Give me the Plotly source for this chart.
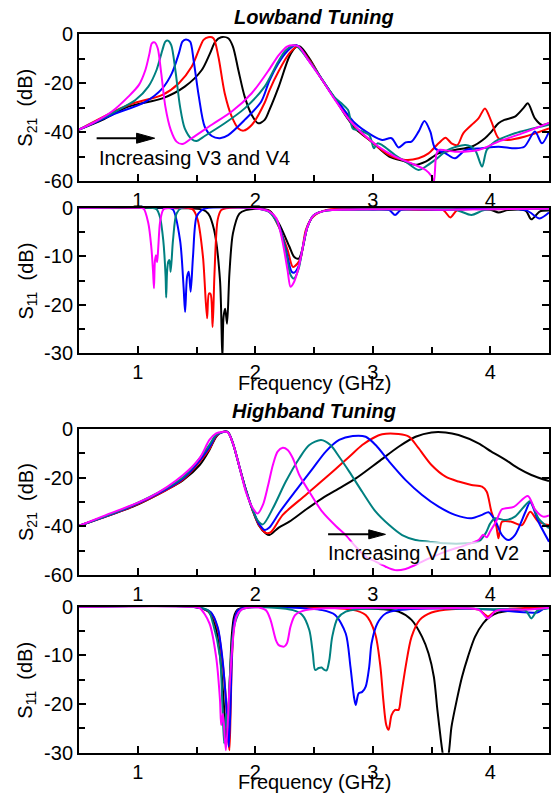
import plotly.graph_objects as go

# ---------------- axis ticks ----------------
freq_ticks = [1, 2, 3, 4]
freq_labels = ["1", "2", "3", "4"]
freq_minor = [1.5, 2.5, 3.5]

s21_ticks = [0, -20, -40, -60]
s21_labels = ["0", "-20", "-40", "-60"]
s21_minor = [-10, -30, -50]

s11_ticks = [0, -10, -20, -30]
s11_labels = ["0", "-10", "-20", "-30"]
s11_minor = [-5, -15, -25]

# ---------------- Lowband tuning, S21 (GHz, dB) ----------------
lb_s21_black_f = [0.50, 0.70, 0.92, 1.21, 1.40, 1.545, 1.615, 1.66, 1.71, 1.77, 1.81, 1.856, 1.91, 1.97,
                  2.025, 2.08, 2.12, 2.20, 2.29, 2.345, 2.38, 2.46, 2.57, 2.68, 2.78, 2.85, 2.99, 3.14,
                  3.28, 3.36, 3.45, 3.56, 3.70, 3.84, 3.955, 4.01, 4.07, 4.12, 4.21, 4.28, 4.32, 4.38,
                  4.44, 4.50]
lb_s21_black_db = [-39, -35, -29.6, -26.2, -21.4, -14.6, -7.8, -3.0, -1.2, -1.6, -5.0, -14.6, -25.5, -33.0,
                   -36.4, -35.0, -31.0, -21.4, -9.1, -5.3, -5.0, -9.8, -18.7, -26.5, -34.0, -38.5, -43.9,
                   -50.0, -52.1, -53.4, -52.1, -48.7, -47.3, -46.0, -42.5, -39.8, -36.4, -35.0, -33.7,
                   -30.3, -28.2, -34.4, -37.1, -36.4]

lb_s21_red_f = [0.50, 0.92, 1.21, 1.35, 1.46, 1.52, 1.56, 1.60, 1.644, 1.686, 1.74, 1.80, 1.856, 1.90,
                1.97, 2.08, 2.12, 2.20, 2.29, 2.36, 2.46, 2.57, 2.68, 2.71, 2.85, 2.99, 3.14, 3.28, 3.39,
                3.475, 3.56, 3.62, 3.67, 3.72, 3.77, 3.84, 3.90, 3.955, 4.01, 4.07, 4.15, 4.29, 4.50]
lb_s21_red_db = [-39, -28.9, -24.8, -20, -13.2, -6.4, -2.3, -1.2, -1.6, -9.1, -24.1, -33.7, -38.5, -39.4,
                 -37.1, -28.0, -23.0, -15.0, -7.8, -5.0, -10.5, -18.6, -26.5, -28.2, -37.8, -43.9, -49.4,
                 -51.4, -50.7, -48.7, -44.6, -42.3, -44.6, -45.3, -40.5, -37.1, -34.4, -30.3, -35.7,
                 -42.5, -43.2, -41.9, -38.5]

lb_s21_blue_f = [0.50, 0.78, 1.065, 1.21, 1.29, 1.35, 1.38, 1.41, 1.446, 1.475, 1.52, 1.57, 1.63, 1.70,
                 1.77, 1.91, 2.05, 2.12, 2.195, 2.27, 2.35, 2.46, 2.57, 2.68, 2.71, 2.85, 2.99, 3.08, 3.16,
                 3.22, 3.28, 3.33, 3.39, 3.44, 3.49, 3.53, 3.62, 3.70, 3.79, 3.93, 4.07, 4.21, 4.29, 4.38,
                 4.44, 4.50]
lb_s21_blue_db = [-39, -33, -27.6, -22.1, -16, -7.8, -3, -2.1, -3, -10.5, -25.5, -37.8, -41.6, -42.5,
                  -41.2, -35, -27.6, -19.0, -12.0, -7.0, -4.4, -11, -18.6, -26.5, -28, -36.4, -41.2, -43.2,
                  -42.5, -46.3, -44.2, -43.9, -39.8, -35.5, -39.8, -46.6, -48.7, -50.7, -47.3, -46.6, -46,
                  -46.6, -46, -39.8, -44.6, -39.8]

lb_s21_teal_f = [0.50, 0.78, 0.98, 1.09, 1.16, 1.21, 1.235, 1.257, 1.285, 1.32, 1.36, 1.40, 1.46, 1.50,
                 1.57, 1.74, 1.91, 2.08, 2.195, 2.26, 2.34, 2.46, 2.57, 2.68, 2.74, 2.79, 2.83, 2.88, 2.97,
                 3.01, 3.04, 3.08, 3.19, 3.28, 3.39, 3.45, 3.53, 3.64, 3.79, 3.87, 3.93, 3.97, 4.04, 4.21,
                 4.50]
lb_s21_teal_db = [-39, -32.3, -26.9, -21.4, -14.6, -6.4, -3.0, -2.6, -4.4, -14.6, -29.6, -38.5, -42.9,
                  -43.6, -41.6, -36.4, -30.3, -21.4, -11.2, -6.5, -4.5, -11, -18.5, -26, -28.5, -31,
                  -38.5, -39.2, -41.2, -46.6, -44.6, -45.3, -49.4, -52.1, -55.5, -54.1, -51.4, -47.3,
                  -45.3, -47.3, -54.1, -47.3, -43.9, -40.5, -37]

lb_s21_magenta_f = [0.50, 0.64, 0.78, 0.92, 1.01, 1.065, 1.10, 1.12, 1.144, 1.17, 1.20, 1.235, 1.28, 1.33,
                    1.38, 1.46, 1.63, 1.80, 1.97, 2.11, 2.20, 2.27, 2.32, 2.37, 2.46, 2.57, 2.68, 2.80,
                    2.91, 3.05, 3.19, 3.33, 3.45, 3.50, 3.52, 3.54, 3.56, 3.70, 3.90, 4.07, 4.27, 4.50]
lb_s21_magenta_db = [-39, -35.7, -31.6, -25.5, -20.7, -14.6, -7.8, -3.7, -3.3, -5.7, -16, -29.6, -39,
                     -43.9, -44.9, -42.5, -37, -31.6, -24.1, -15.0, -8.5, -5, -4.5, -5, -11.2, -18.7,
                     -26.9, -35, -40.5, -46, -50, -52.8, -55.5, -58, -60.5, -49.4, -47.3, -48, -47.3,
                     -43.9, -40.5, -36.2]

# ---------------- Lowband tuning, S11 (GHz, dB) ----------------
lb_s11_black_f = [0.50, 1.40, 1.55, 1.60, 1.65, 1.70, 1.72, 1.73, 1.744, 1.76, 1.78, 1.81, 1.865, 1.92,
                  2.03, 2.12, 2.20, 2.29, 2.33, 2.37, 2.40, 2.445, 2.50, 2.60, 3.50, 4.00, 4.07, 4.15,
                  4.30, 4.35, 4.42, 4.50]
lb_s11_black_db = [0, -0.1, -0.4, -1.2, -4.6, -14.9, -31, -22.5, -20.8, -23.9, -13.6, -5.3, -1.2, -0.5,
                   -0.2, -0.6, -3.2, -8, -10.1, -10.5, -8.7, -3.9, -1.5, -0.6, -0.4, -0.4, -1, -0.5,
                   -0.6, -2.4, -0.8, -0.6]

lb_s11_red_f = [0.50, 1.40, 1.47, 1.51, 1.555, 1.59, 1.606, 1.62, 1.637, 1.653, 1.68, 1.71, 1.75, 2.00,
                2.12, 2.20, 2.275, 2.32, 2.36, 2.39, 2.43, 2.49, 2.60, 3.40, 3.60, 3.66, 3.72, 4.00, 4.50]
lb_s11_red_db = [0, 0, -0.4, -2.5, -10.1, -22.8, -17.7, -17.8, -24.6, -13.6, -2.5, -0.5, -0.1, -0.1,
                 -0.7, -3.9, -8.7, -12.2, -11.5, -10.1, -4.6, -1.9, -0.5, -0.3, -0.5, -2, -0.5, -0.3, -0.2]

lb_s11_blue_f = [0.50, 1.25, 1.30, 1.36, 1.39, 1.403, 1.42, 1.434, 1.45, 1.47, 1.50, 1.54, 1.58, 2.00,
                 2.12, 2.20, 2.26, 2.31, 2.33, 2.37, 2.40, 2.445, 2.50, 2.60, 3.00, 3.14, 3.19, 3.24,
                 3.60, 4.30, 4.42, 4.50]
lb_s11_blue_db = [0, 0, -0.4, -6.7, -16.3, -21.5, -14.2, -13.2, -17.3, -10.1, -1.9, -0.6, -0.1, -0.1,
                  -0.8, -3.6, -8.5, -13.2, -13.4, -12, -8.7, -3.9, -1.5, -0.6, -0.4, -0.5, -1.5, -0.5,
                  -0.4, -0.5, -2.2, -1]

lb_s11_teal_f = [0.50, 1.10, 1.16, 1.19, 1.217, 1.237, 1.242, 1.25, 1.26, 1.27, 1.28, 1.30, 1.33, 1.37,
                 2.00, 2.12, 2.20, 2.26, 2.30, 2.33, 2.37, 2.40, 2.445, 2.50, 2.60, 2.80, 3.20, 3.70,
                 3.84, 3.95, 4.50]
lb_s11_teal_db = [0, 0, -0.3, -2, -6.7, -14.2, -18.5, -13, -11.1, -10.8, -13.2, -6.7, -1.2, -0.1, -0.1,
                  -0.9, -3.8, -9, -13.8, -14.6, -12.5, -8.7, -3.9, -1.5, -0.6, -0.4, -0.3, -0.4, -1.5,
                  -0.5, -0.3]

lb_s11_magenta_f = [0.50, 1.00, 1.05, 1.09, 1.115, 1.13, 1.138, 1.146, 1.155, 1.165, 1.175, 1.19, 1.22,
                    1.30, 2.00, 2.12, 2.18, 2.23, 2.275, 2.30, 2.33, 2.37, 2.40, 2.445, 2.50, 2.60, 2.80,
                    3.20, 3.60, 4.00, 4.50]
lb_s11_magenta_db = [0, 0, -0.2, -3.2, -8, -13, -16.6, -11, -9.8, -11.2, -8, -3, -0.3, 0, -0.1, -0.8,
                     -2.2, -6.7, -12.9, -16.3, -15.3, -12.2, -8.7, -3.9, -1.5, -0.6, -0.4, -0.3, -0.4,
                     -0.3, -0.2]

# ---------------- Highband tuning, S21 (GHz, dB) ----------------
hb_s21_black_f = [0.50, 0.68, 0.96, 1.245, 1.386, 1.527, 1.61, 1.667, 1.71, 1.765, 1.81, 1.865, 1.92,
                  1.977, 2.03, 2.09, 2.12, 2.20, 2.29, 2.42, 2.57, 2.71, 2.856, 3.05, 3.22, 3.364, 3.50,
                  3.62, 3.73, 3.90, 4.01, 4.13, 4.24, 4.35, 4.50]
hb_s21_black_db = [-39.8, -36.7, -31.9, -25, -21, -14.8, -8.6, -3.2, -1.4, -1.2, -5.9, -15.5, -25,
                   -33.3, -39.5, -42.9, -43.6, -40.5, -38.1, -33.5, -28.5, -24.5, -20.3, -13.4, -7.3,
                   -3.2, -1.4, -1.4, -2.5, -5.9, -9.3, -12.7, -16.2, -18.9, -21.4]

hb_s21_red_f = [0.50, 0.96, 1.386, 1.61, 1.667, 1.72, 1.765, 1.81, 1.865, 1.92, 1.977, 2.03, 2.09, 2.13,
                2.234, 2.43, 2.66, 2.80, 2.91, 3.00, 3.08, 3.22, 3.31, 3.39, 3.50, 3.62, 3.73, 3.84, 3.93,
                3.97, 4.01, 4.05, 4.07, 4.10, 4.18, 4.27, 4.34, 4.41, 4.50]
hb_s21_red_db = [-39.8, -31.7, -20.7, -8.2, -2.9, -1.3, -1.2, -5.9, -15.5, -25, -33.3, -39.3, -42.7,
                 -42.5, -35.3, -27.1, -17.5, -11.4, -6.6, -3.8, -2.2, -2.1, -3.2, -7.9, -14.8, -19.6,
                 -21.6, -23, -23.7, -25.8, -34, -39.5, -44.9, -38.1, -38.1, -39.5, -34, -38.1, -39.5]

hb_s21_blue_f = [0.50, 0.96, 1.386, 1.61, 1.667, 1.72, 1.765, 1.81, 1.865, 1.92, 1.977, 2.03, 2.08, 2.12,
                 2.21, 2.35, 2.49, 2.60, 2.714, 2.83, 2.94, 3.025, 3.14, 3.28, 3.42, 3.56, 3.70, 3.84,
                 3.93, 3.985, 4.04, 4.10, 4.155, 4.21, 4.30, 4.34, 4.41, 4.50]
hb_s21_blue_db = [-39.8, -31.5, -20.3, -7.5, -2.6, -1.3, -1.2, -5.9, -15.5, -25, -33, -38.8, -41.5,
                  -40.5, -34, -25, -16.2, -9.3, -4.5, -2.9, -3.2, -6.6, -13.4, -21, -27.1, -31.9, -35.3,
                  -36.7, -35.3, -34.2, -37.4, -43.6, -45.6, -43.6, -34, -30.1, -38.1, -46.3]

hb_s21_teal_f = [0.50, 0.96, 1.386, 1.61, 1.667, 1.72, 1.765, 1.81, 1.865, 1.92, 1.977, 2.02, 2.065,
                 2.15, 2.26, 2.375, 2.46, 2.56, 2.64, 2.714, 2.80, 2.91, 3.025, 3.14, 3.25, 3.364, 3.48,
                 3.62, 3.79, 3.90, 3.96, 4.00, 4.04, 4.13, 4.21, 4.30, 4.34, 4.41, 4.50]
hb_s21_teal_db = [-39.8, -31.2, -19.8, -6.5, -2.3, -1.3, -1.2, -5.9, -15.5, -25, -33, -37.5, -39.2,
                  -32.6, -21.6, -12, -6.6, -4.5, -6.6, -11.4, -17.5, -25.8, -34, -39.5, -43.6, -45.6,
                  -46.3, -47, -47, -46.3, -42.9, -38.8, -36.7, -37.4, -36, -31.2, -29.6, -36.7, -40.8]

hb_s21_magenta_f = [0.50, 0.68, 1.10, 1.386, 1.527, 1.61, 1.667, 1.72, 1.765, 1.81, 1.865, 1.92, 1.98,
                    2.02, 2.065, 2.11, 2.15, 2.19, 2.234, 2.276, 2.32, 2.375, 2.46, 2.57, 2.69, 2.77,
                    2.856, 2.94, 3.025, 3.11, 3.19, 3.28, 3.36, 3.48, 3.62, 3.79, 3.90, 3.94, 3.97, 4.00,
                    4.05, 4.10, 4.20, 4.32, 4.38, 4.45, 4.50]
hb_s21_magenta_db = [-39.8, -36.3, -28.1, -18.9, -12, -4.5, -1.8, -1.2, -1.3, -5.9, -15.5, -25.8, -32.6,
                     -34.7, -31.2, -23, -14.8, -9.3, -7.7, -8.6, -12, -18.9, -25.8, -34, -40.1, -43.6,
                     -48.4, -52.5, -54.5, -56.6, -58, -57.5, -55.9, -53.2, -50.4, -47.7, -45.6, -43.5,
                     -44.5, -42, -38, -33, -32, -27.5, -33, -36, -35.5]

# ---------------- Highband tuning, S11 (GHz, dB) ----------------
hb_s11_black_f = [0.50, 1.50, 1.60, 1.66, 1.70, 1.73, 1.755, 1.77, 1.785, 1.80, 1.82, 1.85, 1.90, 2.00,
                  3.08, 3.22, 3.33, 3.42, 3.475, 3.52, 3.55, 3.58, 3.60, 3.62, 3.65, 3.67, 3.715, 3.76,
                  3.81, 3.87, 3.94, 3.995, 4.07, 4.21, 4.50]
hb_s11_black_db = [0, -0.1, -1, -4, -10, -19, -28, -22, -14, -6, -2, -0.6, -0.2, 0, -0.5, -1, -2.7,
                   -6.2, -9.6, -14.4, -21.2, -27.4, -31, -34, -29.5, -24.7, -19.2, -14.4, -10.3, -6.2,
                   -3.4, -2.1, -1.2, -0.7, -0.2]

hb_s11_red_f = [0.50, 1.50, 1.62, 1.68, 1.72, 1.75, 1.77, 1.78, 1.79, 1.80, 1.82, 1.85, 1.90, 2.00,
                2.82, 2.94, 3.02, 3.065, 3.09, 3.115, 3.135, 3.16, 3.19, 3.22, 3.24, 3.28, 3.33, 3.40,
                3.50, 3.67, 3.90, 3.98, 4.05, 4.50]
hb_s11_red_db = [0, -0.1, -1.2, -4.5, -11, -19, -27, -29.5, -22, -12, -3.5, -0.8, -0.2, 0, -0.6, -1.7,
                 -5.5, -12.3, -19.2, -24.3, -25.3, -22.3, -21.2, -21.2, -18.5, -12.3, -6.2, -2.7, -1.2,
                 -0.5, -0.6, -2, -0.8, -0.2]

hb_s11_blue_f = [0.50, 1.50, 1.62, 1.68, 1.72, 1.75, 1.765, 1.775, 1.79, 1.80, 1.82, 1.85, 1.90, 2.00,
                 2.57, 2.68, 2.77, 2.81, 2.84, 2.855, 2.88, 2.91, 2.94, 2.97, 2.99, 3.04, 3.11, 3.22,
                 3.60, 4.00, 4.40, 4.45, 4.50]
hb_s11_blue_db = [0, -0.1, -1.1, -4.2, -10.5, -19, -25, -28.8, -20, -11, -3.2, -0.8, -0.2, 0, -0.7,
                  -1.7, -5.5, -12.3, -18.5, -20.2, -17.8, -17.5, -16.4, -12.3, -7.5, -3.4, -1.4, -0.7,
                  -0.3, -0.6, -1.2, -0.5, -0.2]

hb_s11_teal_f = [0.50, 1.50, 1.60, 1.64, 1.70, 1.72, 1.735, 1.75, 1.765, 1.785, 1.81, 1.836, 1.88, 2.00,
                 2.32, 2.40, 2.46, 2.49, 2.51, 2.54, 2.565, 2.584, 2.607, 2.63, 2.655, 2.70, 2.77, 2.88,
                 3.50, 4.00, 4.30, 4.35, 4.40, 4.50]
hb_s11_teal_db = [0, -0.1, -0.8, -3.4, -10.3, -20, -28.1, -22, -25, -14, -5.5, -2.7, -0.6, -0.1, -0.7,
                  -1.7, -4.8, -9.6, -13, -12.6, -12.5, -12.9, -13.1, -11, -6.2, -2.4, -1, -0.5, -0.3,
                  -0.5, -0.8, -2.4, -0.8, -0.3]

hb_s11_magenta_f = [0.50, 1.45, 1.527, 1.61, 1.667, 1.70, 1.71, 1.725, 1.75, 1.78, 1.81, 1.84, 1.89, 2.00,
                    2.09, 2.13, 2.175, 2.20, 2.245, 2.27, 2.30, 2.34, 2.43, 2.66, 3.50, 3.90, 3.98, 4.05,
                    4.30, 4.50]
hb_s11_magenta_db = [0, 0, -0.3, -3.4, -10.3, -19.2, -24.3, -22, -29.5, -17, -6.8, -2, -0.5, -0.1, -0.7,
                     -2.7, -6.8, -7.9, -8.2, -7.5, -4.1, -1.7, -0.7, -0.3, -0.3, -0.6, -2.4, -0.8, -0.6,
                     -0.2]

# ---------------- styling ----------------
FONT = "Liberation Sans, Arial, Helvetica, sans-serif"
W, H = 557, 798
colors = {"black": "#000000", "red": "#ff0000", "blue": "#0000ff",
          "teal": "#008080", "magenta": "#ff00ff"}
order = ["black", "red", "blue", "teal", "magenta"]

panels = [
    ("", {"black": (lb_s21_black_f, lb_s21_black_db), "red": (lb_s21_red_f, lb_s21_red_db),
          "blue": (lb_s21_blue_f, lb_s21_blue_db), "teal": (lb_s21_teal_f, lb_s21_teal_db),
          "magenta": (lb_s21_magenta_f, lb_s21_magenta_db)}, "s21"),
    ("2", {"black": (lb_s11_black_f, lb_s11_black_db), "red": (lb_s11_red_f, lb_s11_red_db),
           "blue": (lb_s11_blue_f, lb_s11_blue_db), "teal": (lb_s11_teal_f, lb_s11_teal_db),
           "magenta": (lb_s11_magenta_f, lb_s11_magenta_db)}, "s11"),
    ("3", {"black": (hb_s21_black_f, hb_s21_black_db), "red": (hb_s21_red_f, hb_s21_red_db),
           "blue": (hb_s21_blue_f, hb_s21_blue_db), "teal": (hb_s21_teal_f, hb_s21_teal_db),
           "magenta": (hb_s21_magenta_f, hb_s21_magenta_db)}, "s21"),
    ("4", {"black": (hb_s11_black_f, hb_s11_black_db), "red": (hb_s11_red_f, hb_s11_red_db),
           "blue": (hb_s11_blue_f, hb_s11_blue_db), "teal": (hb_s11_teal_f, hb_s11_teal_db),
           "magenta": (hb_s11_magenta_f, hb_s11_magenta_db)}, "s11"),
]

# plot-area edges in pixels (left, right) and (top, bottom) of each panel
x_px = (79, 549)
y_px = [(34.3, 181.0), (207.7, 353.3), (429.0, 575.0), (606.7, 752.7)]

fig = go.Figure()
layout = dict(width=W, height=H, margin=dict(l=0, r=0, t=0, b=0, autoexpand=False),
              paper_bgcolor="white", plot_bgcolor="white", showlegend=False,
              font=dict(family=FONT, size=20, color="black"))

for i, (sfx, series, kind) in enumerate(panels):
    xa, ya = "x" + sfx, "y" + sfx
    for name in order:
        f, db = series[name]
        fig.add_trace(go.Scatter(x=f, y=db, mode="lines", xaxis=xa, yaxis=ya,
                                 line=dict(color=colors[name], width=2, shape="spline", smoothing=0.8),
                                 hoverinfo="skip"))
    top, bot = y_px[i]
    layout["xaxis" + sfx] = dict(
        domain=[x_px[0] / W, x_px[1] / W], range=[0.5, 4.5], anchor=ya, automargin=False,
        tickvals=freq_ticks, ticktext=freq_labels, ticks="inside", ticklen=7, tickwidth=1.5,
        tickcolor="black", showline=True, linewidth=2, linecolor="black", mirror=True,
        showgrid=False, zeroline=False, tickfont=dict(family=FONT, size=20, color="black"),
        minor=dict(tickvals=freq_minor, ticks="inside", ticklen=6, tickwidth=1.5, tickcolor="black",
                   showgrid=False))
    if kind == "s21":
        yt, ytl, ym, yr = s21_ticks, s21_labels, s21_minor, [-60, 0]
    else:
        yt, ytl, ym, yr = s11_ticks, s11_labels, s11_minor, [-30, 0]
    layout["yaxis" + sfx] = dict(
        domain=[1 - bot / H, 1 - top / H], range=yr, anchor=xa, automargin=False,
        tickvals=yt, ticktext=ytl, ticks="inside", ticklen=7, tickwidth=1.5, tickcolor="black",
        showline=True, linewidth=2, linecolor="black", mirror="ticks",
        showgrid=False, zeroline=False, tickfont=dict(family=FONT, size=20, color="black"),
        minor=dict(tickvals=ym, ticks="inside", ticklen=6, tickwidth=1.5, tickcolor="black",
                   showgrid=False))

fig.update_layout(**layout)

annotations = []
# panel titles
for text, ypix in [("<b><i>Lowband Tuning</i></b>", 17), ("<b><i>Highband Tuning</i></b>", 411)]:
    annotations.append(dict(text=text, x=314 / W, y=1 - ypix / H, xref="paper", yref="paper",
                            showarrow=False, xanchor="center", yanchor="middle",
                            font=dict(family=FONT, size=20, color="black")))
# y-axis titles
for i, sub in enumerate(["21", "11", "21", "11"]):
    top, bot = y_px[i]
    annotations.append(dict(text="S<sub>%s</sub>\u00a0\u00a0(dB)" % sub, x=27 / W,
                            y=1 - (top + bot) / 2 / H, xref="paper", yref="paper", textangle=-90,
                            showarrow=False, xanchor="center", yanchor="middle",
                            font=dict(family=FONT, size=20, color="black")))
# x-axis titles
for ypix in [383, 782]:
    annotations.append(dict(text="Frequency (GHz)", x=314 / W, y=1 - ypix / H, xref="paper",
                            yref="paper", showarrow=False, xanchor="center", yanchor="middle",
                            font=dict(family=FONT, size=20, color="black")))
# tuning labels
annotations.append(dict(text="Increasing V3 and V4", x=0.65, y=-50.6, xref="x", yref="y",
                        showarrow=False, xanchor="left", yanchor="middle",
                        font=dict(family=FONT, size=20, color="black")))
annotations.append(dict(text="Increasing V1 and V2", x=2.61, y=-50.8, xref="x3", yref="y3",
                        showarrow=False, xanchor="left", yanchor="middle",
                        bgcolor="rgba(255,255,255,0.7)", borderpad=0,
                        font=dict(family=FONT, size=20, color="black")))
fig.update_layout(annotations=annotations)

# tuning arrows: shaft + slender filled head
shapes = []
for xr, yr, x0, xb, xt, yv, hh in [("x", "y", 0.65, 0.99, 1.144, -42.5, 2.05),
                                   ("x3", "y3", 2.62, 2.966, 3.108, -43.3, 1.85)]:
    shapes.append(dict(type="line", xref=xr, yref=yr, x0=x0, x1=xb + 0.01, y0=yv, y1=yv,
                       line=dict(color="black", width=2)))
    shapes.append(dict(type="path", xref=xr, yref=yr,
                       path="M %g,%g L %g,%g L %g,%g Z" % (xb, yv + hh, xt, yv, xb, yv - hh),
                       fillcolor="black", line=dict(color="black", width=1)))
fig.update_layout(shapes=shapes)

fig.write_html("out.html", config={"displayModeBar": False})
